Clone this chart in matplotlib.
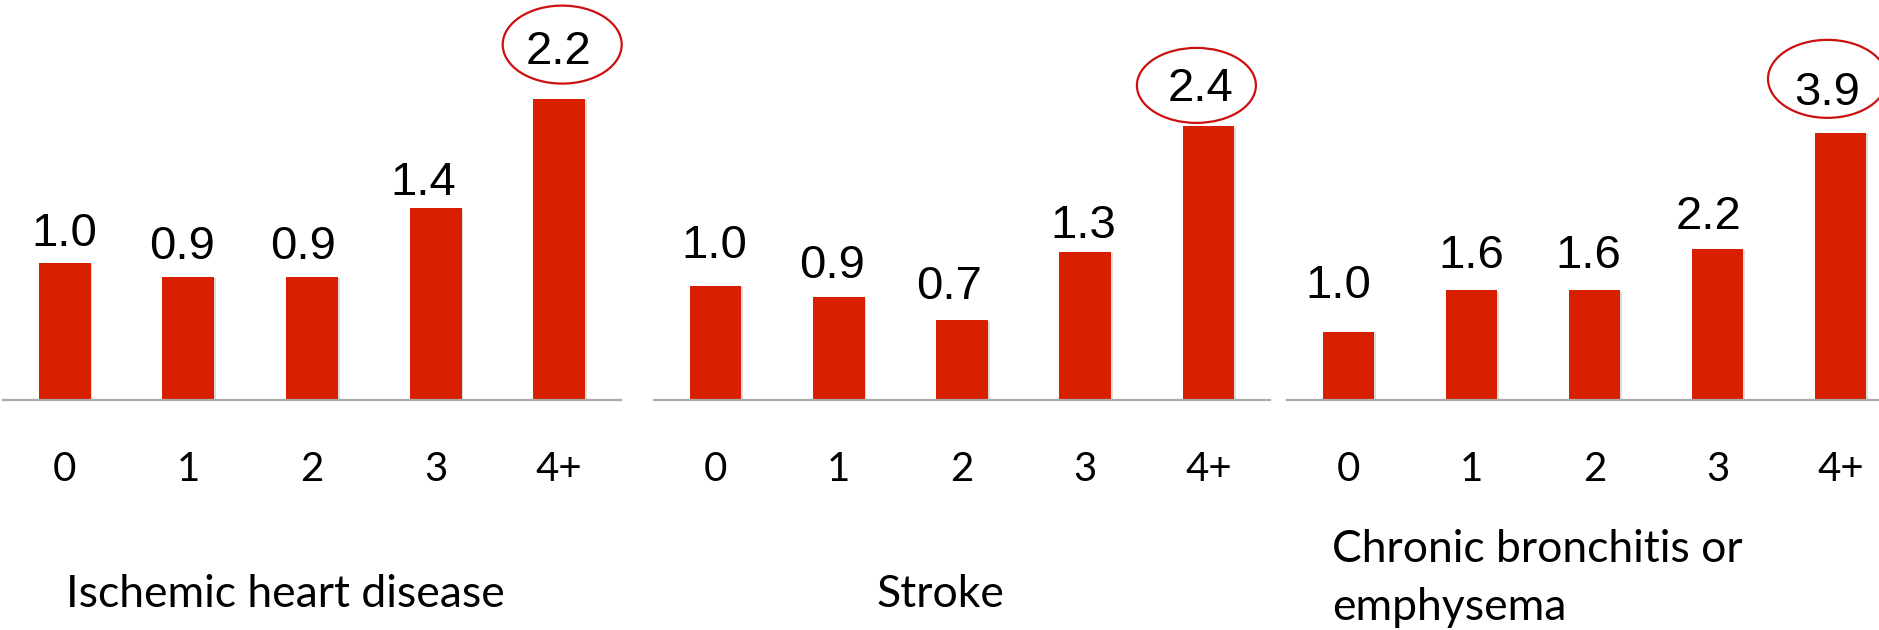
import matplotlib
matplotlib.use("Agg")
import matplotlib.pyplot as plt
import matplotlib.transforms as mtransforms
from matplotlib.patches import Ellipse
import matplotlib.patheffects as pe

# ---- data ----
categories = ["0", "1", "2", "3", "4+"]
ihd_values = [1.0, 0.9, 0.9, 1.4, 2.2]
stroke_values = [1.0, 0.9, 0.7, 1.3, 2.4]
copd_values = [1.0, 1.6, 1.6, 2.2, 3.9]
titles = ["Ischemic heart disease", "Stroke", "Chronic bronchitis or\nemphysema"]

# ---- layout (pixels at 100 dpi) ----
W, H = 1879, 630
DPI = 100
BASE_Y = 400  # axis line, from top
panels = [
    # left px, width px, px per unit, label offsets (dx, gap), ellipse (dx, dy, w, h)
    dict(values=ihd_values, left=3, width=618, ppu=137,
         offs=[(0, 17), (-6, 18), (-9, 18), (-12, 13), (-1, 35)],
         ell=(3, 54, 119, 78)),
    dict(values=stroke_values, left=654, width=616, ppu=114,
         offs=[(-1, 28), (-7, 19), (-13, 21), (-2, 14), (-8, 25)],
         ell=(-12, 41, 119, 75)),
    dict(values=copd_values, left=1287, width=615, ppu=68.5,
         offs=[(-10, 34), (0, 22), (-6, 22), (-9, 20), (-13, 28)],
         ell=(-13, 54, 119, 78)),
]

BAR_COLOR = "#D62000"
AXIS_COLOR = "#ABABAB"
ELL_COLOR = "#CC1010"
LABEL_FONT = ["Liberation Sans", "DejaVu Sans"]
TEXT_FONT = ["Lato", "DejaVu Sans"]
PX = 72.0 / DPI
TITLE_SIZE = 32
TICK_SIZE = 29

fig = plt.figure(figsize=(W / DPI, H / DPI), dpi=DPI)
fig.patch.set_facecolor("white")

axes = []
for p in panels:
    ax = fig.add_axes([p["left"] / W, (H - BASE_Y) / H, p["width"] / W, BASE_Y / H])
    axes.append(ax)
    x = list(range(len(categories)))
    bars = ax.bar(x, p["values"], width=0.42, color=BAR_COLOR, zorder=2)
    for b in bars:
        b.set_path_effects([pe.SimplePatchShadow(offset=(1.2, -0.8), alpha=0.25, shadow_rgbFace="#777777"),
                            pe.Normal()])
    ax.set_xlim(-0.5, len(categories) - 0.5)
    ax.set_ylim(0, BASE_Y / p["ppu"])
    ax.patch.set_alpha(0)
    for s in ["top", "left", "right"]:
        ax.spines[s].set_visible(False)
    ax.spines["bottom"].set_color(AXIS_COLOR)
    ax.spines["bottom"].set_linewidth(1.6)
    ax.spines["bottom"].set_clip_on(False)
    ax.set_yticks([])
    ax.set_xticks(x)
    ax.set_xticklabels(categories, family=TEXT_FONT, fontsize=TICK_SIZE, color="black")
    ax.tick_params(axis="x", length=0, pad=81 * PX)
    for t in ax.get_xticklabels():
        t.set_va("baseline")

    for i, (v, (dx, gap)) in enumerate(zip(p["values"], p["offs"])):
        ax.annotate(f"{v:.1f}", xy=(i, v), xytext=(dx * PX, gap * PX),
                    textcoords="offset points", ha="center", va="baseline",
                    fontsize=34, family=LABEL_FONT, color="black",
                    annotation_clip=False, zorder=4)
    # highlight ellipse around the largest value
    imax = len(p["values"]) - 1
    edx, edy, ew, eh = p["ell"]
    trans = mtransforms.ScaledTranslation(imax, p["values"][imax], ax.transData)
    ell = Ellipse((edx, edy), ew, eh, transform=trans, fill=False,
                  edgecolor=ELL_COLOR, linewidth=1.6, clip_on=False, zorder=5)
    ax.add_artist(ell)

# titles
fig.text(66 / W, 1 - 607 / H, titles[0], ha="left", va="baseline",
         fontsize=TITLE_SIZE, family=TEXT_FONT, color="black")
fig.text(940 / W, 1 - 607 / H, titles[1], ha="center", va="baseline",
         fontsize=TITLE_SIZE, family=TEXT_FONT, color="black")
line1, line2 = titles[2].split("\n")
fig.text(1332 / W, 1 - 562 / H, line1, ha="left", va="baseline",
         fontsize=TITLE_SIZE, family=TEXT_FONT, color="black")
fig.text(1332 / W, 1 - 620 / H, line2, ha="left", va="baseline",
         fontsize=TITLE_SIZE, family=TEXT_FONT, color="black")

fig.savefig("out.png", dpi=DPI, facecolor="white")
